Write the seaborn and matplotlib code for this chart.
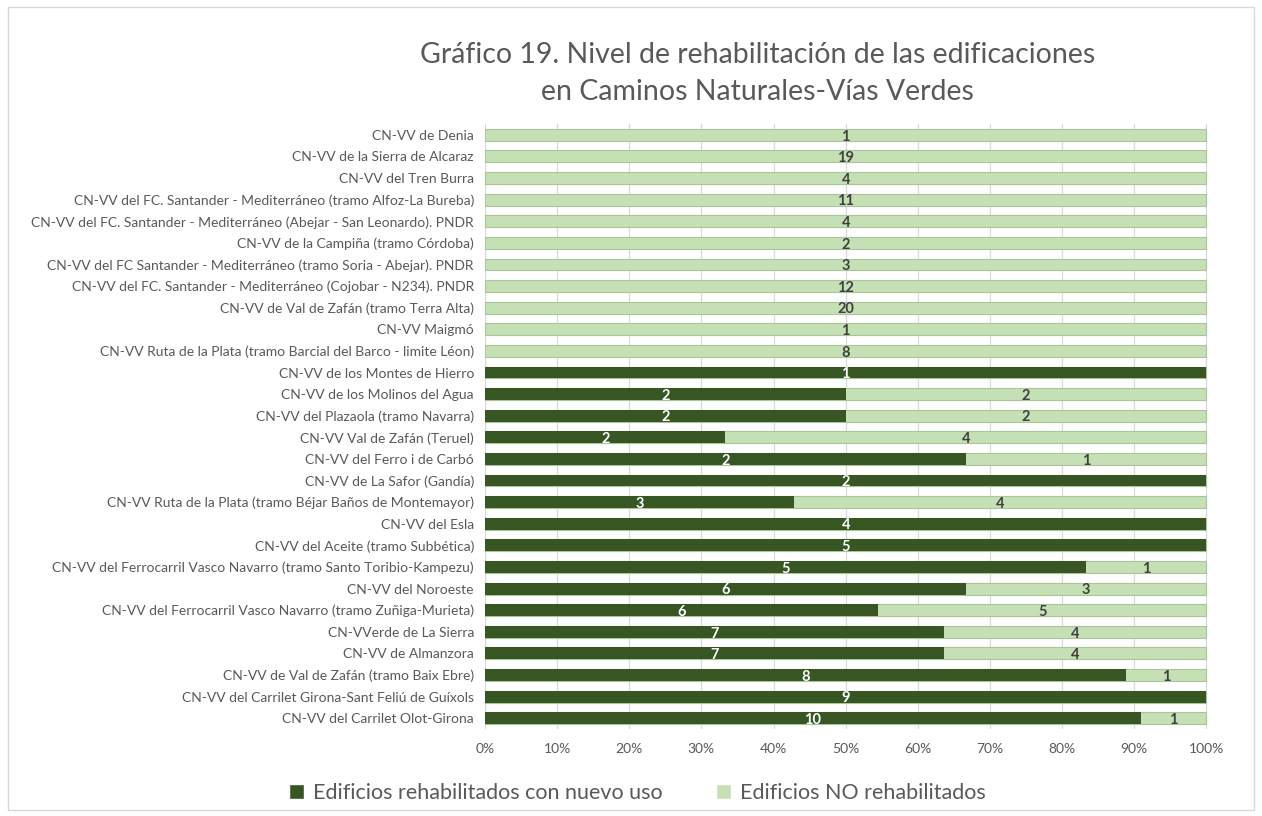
import pandas as pd
import matplotlib.pyplot as plt
import seaborn as sns
import numpy as np
from matplotlib.patches import Rectangle, Patch

# datos: de arriba a abajo
caminos = [
    "CN-VV de Denia",
    "CN-VV de la Sierra de Alcaraz",
    "CN-VV del Tren Burra",
    "CN-VV del FC. Santander - Mediterráneo (tramo Alfoz-La Bureba)",
    "CN-VV del FC. Santander - Mediterráneo (Abejar - San Leonardo). PNDR",
    "CN-VV de la Campiña (tramo Córdoba)",
    "CN-VV del FC Santander - Mediterráneo (tramo Soria - Abejar). PNDR",
    "CN-VV del FC. Santander - Mediterráneo (Cojobar - N234). PNDR",
    "CN-VV de Val de Zafán (tramo Terra Alta)",
    "CN-VV Maigmó",
    "CN-VV Ruta de la Plata (tramo Barcial del Barco - limite Léon)",
    "CN-VV de los Montes de Hierro",
    "CN-VV de los Molinos del Agua",
    "CN-VV del Plazaola (tramo Navarra)",
    "CN-VV Val de Zafán (Teruel)",
    "CN-VV del Ferro i de Carbó",
    "CN-VV de La Safor (Gandía)",
    "CN-VV Ruta de la Plata (tramo Béjar Baños de Montemayor)",
    "CN-VV del Esla",
    "CN-VV del Aceite (tramo Subbética)",
    "CN-VV del Ferrocarril Vasco Navarro (tramo Santo Toribio-Kampezu)",
    "CN-VV del Noroeste",
    "CN-VV del Ferrocarril Vasco Navarro (tramo Zuñiga-Murieta)",
    "CN-VVerde de La Sierra",
    "CN-VV de Almanzora",
    "CN-VV de Val de Zafán (tramo Baix Ebre)",
    "CN-VV del Carrilet Girona-Sant Feliú de Guíxols",
    "CN-VV del Carrilet Olot-Girona",
]
rehabilitados = [0, 0, 0, 0, 0, 0, 0, 0, 0, 0, 0,
                 1, 2, 2, 2, 2, 2, 3, 4, 5, 5, 6, 6, 7, 7, 8, 9, 10]
no_rehabilitados = [1, 19, 4, 11, 4, 2, 3, 12, 20, 1, 8,
                    0, 2, 2, 4, 1, 0, 4, 0, 0, 1, 3, 5, 4, 4, 1, 0, 1]
series = ["Edificios rehabilitados con nuevo uso", "Edificios NO rehabilitados"]

oscuro = "#375623"
claro = "#c5e0b4"
gris = "#595959"

df = pd.DataFrame({"camino": caminos, "si": rehabilitados, "no": no_rehabilitados})
df["total"] = df["si"] + df["no"]
df["pct_si"] = df["si"] / df["total"] * 100
df["pct_total"] = 100.0

sns.set_style("white")
plt.rcParams["font.family"] = ["Lato", "DejaVu Sans"]

fig = plt.figure(figsize=(12.62, 8.16), dpi=100)
ax = fig.add_axes([0.3843, 0.1066, 0.5745, 0.7414])

sns.barplot(data=df, y="camino", x="pct_total", color=claro, saturation=1,
            width=0.55, edgecolor="#a8c699", linewidth=0.8, ax=ax, zorder=2)
sns.barplot(data=df, y="camino", x="pct_si", color=oscuro, saturation=1,
            width=0.55, linewidth=0, ax=ax, zorder=3)

# etiquetas de datos
for i, r in df.iterrows():
    if r["si"] > 0:
        ax.text(r["pct_si"] / 2, i + 0.08, str(r["si"]), ha="center", va="center",
                color="white", fontsize=10.5, fontweight="bold", zorder=5)
    if r["no"] > 0:
        ax.text((r["pct_si"] + 100) / 2, i + 0.08, str(r["no"]), ha="center", va="center",
                color="#404040", fontsize=10.5, fontweight="bold", zorder=5)

ax.set_xlim(0, 100.5)
ax.set_ylim(len(df) - 0.5, -0.5)
ax.set_xticks(range(0, 101, 10))
ax.set_xticklabels([f"{v}%" for v in range(0, 101, 10)], color=gris, fontsize=10)
ax.tick_params(axis="y", labelsize=10, labelcolor=gris, length=0, pad=8)
ax.tick_params(axis="x", length=0, pad=10)
ax.set_xlabel("")
ax.set_ylabel("")
ax.grid(axis="x", color="#d9d9d9", linewidth=0.9, zorder=0)
ax.set_axisbelow(True)
for s in ax.spines.values():
    s.set_visible(False)

fig.text(0.6, 0.932, "Gráfico 19. Nivel de rehabilitación de las edificaciones",
         ha="center", va="center", fontsize=20.5, color=gris)
fig.text(0.6, 0.887, "en Caminos Naturales-Vías Verdes",
         ha="center", va="center", fontsize=20.5, color=gris)

handles = [Patch(facecolor=oscuro), Patch(facecolor=claro)]
fig.legend(handles, series, loc="center", bbox_to_anchor=(0.505, 0.028), ncol=2,
           frameon=False, fontsize=15.5, labelcolor=gris, handlelength=0.7,
           handleheight=0.7, handletextpad=0.4, columnspacing=2.5)

fig.patches.append(Rectangle((0.006, 0.007), 0.988, 0.984, transform=fig.transFigure,
                             fill=False, edgecolor="#d9d9d9", linewidth=1))

fig.savefig("out.png", dpi=100)
